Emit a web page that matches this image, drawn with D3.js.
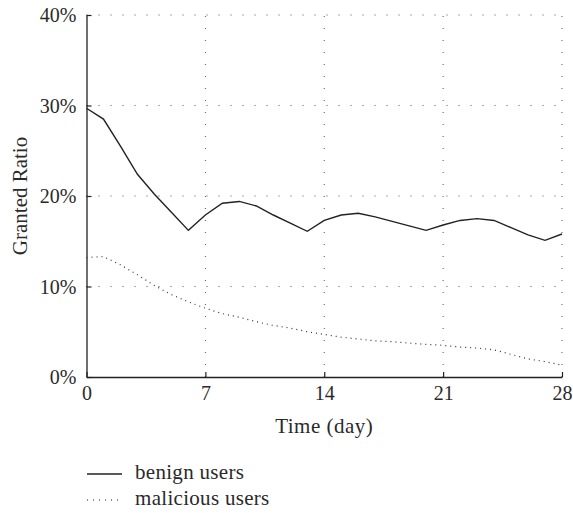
<!DOCTYPE html>
<html>
<head>
<meta charset="utf-8">
<script src="https://cdn.jsdelivr.net/npm/d3@7"></script>
<style>
  html, body { margin: 0; padding: 0; background: #fff; }
  svg text { font-family: "Liberation Serif", "DejaVu Serif", serif; fill: #2a2a2a; }
</style>
</head>
<body>
<svg id="chart" width="573" height="513"></svg>
<script>
// Granted ratio per day (percent)
const days = d3.range(0, 29);
const benign = [29.7, 28.5, 25.5, 22.4, 20.2, 18.2, 16.2, 17.9, 19.2, 19.4, 18.9, 17.9, 17.0, 16.1, 17.3,
                17.9, 18.1, 17.7, 17.2, 16.7, 16.2, 16.8, 17.3, 17.5, 17.3, 16.5, 15.7, 15.1, 15.8];
const malicious = [13.2, 13.3, 12.4, 11.3, 10.1, 9.1, 8.3, 7.6, 7.0, 6.6, 6.1, 5.7, 5.4, 5.0, 4.7,
                   4.4, 4.2, 4.0, 3.9, 3.75, 3.6, 3.5, 3.3, 3.2, 3.0, 2.5, 2.0, 1.7, 1.3];
const xTicks = [0, 7, 14, 21, 28];
const yTicks = [0, 10, 20, 30, 40];
const seriesNames = ["benign users", "malicious users"];

const TICK_FONT = 20;
const LABEL_FONT = 21;
const svg = d3.select("#chart");
const m = { left: 86.5, right: 562, top: 15, bottom: 377 };

const x = d3.scaleLinear().domain([0, 28]).range([m.left, m.right]);
const y = d3.scaleLinear().domain([0, 40]).range([m.bottom, m.top]);

// dotted grid
const grid = svg.append("g").attr("stroke", "#555").attr("stroke-width", 1)
  .attr("stroke-dasharray", "1,11");
grid.selectAll(".gy").data(yTicks.filter(d => d > 0)).join("line")
  .attr("x1", m.left).attr("x2", m.right)
  .attr("y1", d => y(d)).attr("y2", d => y(d));
grid.selectAll(".gx").data(xTicks.filter(d => d > 0)).join("line")
  .attr("y1", m.bottom).attr("y2", m.top)
  .attr("x1", d => x(d)).attr("x2", d => x(d));

// axes
const xAxis = svg.append("g").attr("transform", `translate(0,${m.bottom})`)
  .call(d3.axisBottom(x).tickValues(xTicks).tickSizeInner(-5).tickSizeOuter(0).tickPadding(10));
const yAxis = svg.append("g").attr("transform", `translate(${m.left},0)`)
  .call(d3.axisLeft(y).tickValues(yTicks).tickFormat(d => d + "%").tickSizeInner(-5).tickSizeOuter(0).tickPadding(10));
[xAxis, yAxis].forEach(a => {
  a.select(".domain").attr("stroke", "#222").attr("stroke-width", 1.3);
  a.selectAll(".tick line").attr("stroke", "#222").attr("stroke-width", 1.2);
  a.selectAll("text").attr("font-size", TICK_FONT).style("font-family", "'Liberation Serif', serif").attr("fill", "#2a2a2a");
});
xAxis.selectAll("text").attr("dy", "0.66em");
yAxis.selectAll("text").attr("dy", "0.33em");

// lines
const line = d3.line().x((d, i) => x(days[i])).y(d => y(d));
svg.append("path").datum(benign).attr("d", line)
  .attr("fill", "none").attr("stroke", "#222").attr("stroke-width", 1.4);
svg.append("path").datum(malicious).attr("d", line)
  .attr("fill", "none").attr("stroke", "#333").attr("stroke-width", 1.2)
  .attr("stroke-dasharray", "1,4");

// axis titles
svg.append("text").attr("x", (m.left + m.right) / 2).attr("y", 433)
  .attr("text-anchor", "middle").attr("font-size", LABEL_FONT).attr("letter-spacing", 0.5).text("Time (day)");
svg.append("text").attr("transform", `translate(27,${(m.top + m.bottom) / 2}) rotate(-90)`)
  .attr("text-anchor", "middle").attr("font-size", LABEL_FONT).text("Granted Ratio");

// legend
const legend = svg.append("g");
seriesNames.forEach((name, i) => {
  const base = 479 + i * 26;
  legend.append("line").attr("x1", 87).attr("x2", 122).attr("y1", base - 5).attr("y2", base - 5)
    .attr("stroke", "#222").attr("stroke-width", i === 0 ? 1.4 : 1.2)
    .attr("stroke-dasharray", i === 0 ? null : "1,5");
  legend.append("text").attr("x", 135).attr("y", base).attr("font-size", LABEL_FONT)
    .attr("letter-spacing", 0.3).text(name);
});
</script>
</body>
</html>
